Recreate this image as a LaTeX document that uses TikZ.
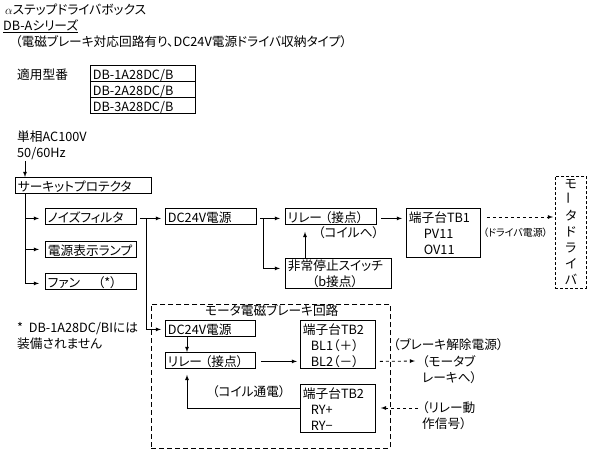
\documentclass[tikz,border=0pt]{standalone}
\usepackage{fontspec}
\setmainfont[CharacterWidth=AlternateProportional]{Noto Sans CJK JP}
\usetikzlibrary{calc,positioning}
\tikzset{
    blk/.style={draw, line width=0.8pt, anchor=north west, inner xsep=2pt, inner ysep=2pt, align=left, text height=12pt, text depth=0pt},
    blkthree/.style={blk, text depth=32pt},
    blktwo/.style={blk, inner ysep=1.5pt, text height=11pt, text depth=16pt},
    lbl/.style={anchor=west, inner sep=0pt, align=left},
    arr/.style={->, >=latex, line width=0.8pt},
    dasharr/.style={->, >=latex, line width=0.8pt, dash pattern=on 3pt off 3pt}
}
\begin{document}
\begin{tikzpicture}[x=1pt, y=-1pt, font=\fontsize{12.7}{16}\selectfont]
    \useasboundingbox (0,0) rectangle (601,465);

    % Headings at the top
    \node[lbl] (title) at (5,10) {$\alpha$ステップドライバボックス};
    \node[lbl] (series) at (3,26) {\underline{DB-Aシリーズ}};
    \node[lbl] (sub) at (15,42) {（電磁ブレーキ対応回路有り、DC24V電源ドライバ収納タイプ）};

    % Model table
    \node[lbl] (models) at (17,75) {適用型番};
    \node[blk, minimum width=105pt, minimum height=16pt, text width=100pt] (m1) at (90,65) {DB-1A28DC/B};
    \node[blk, minimum width=105pt, minimum height=16pt, text width=100pt] (m2) at (90,81) {DB-2A28DC/B};
    \node[blk, minimum width=105pt, minimum height=16pt, text width=100pt] (m3) at (90,97) {DB-3A28DC/B};

    % Input side
    \node[lbl] (ac) at (17,145) {単相AC100V\\50/60Hz};
    \coordinate (acin) at (25,161);
    \node[blk, minimum width=136pt, minimum height=16pt, text width=131pt] (cp) at (15,177) {サーキットプロテクタ};
    \node[blk, minimum width=91pt, minimum height=16pt, text width=86pt] (flt) at (45,208) {ノイズフィルタ};
    \node[blk, minimum width=91pt, minimum height=16pt, text width=86pt] (lamp) at (45,241) {電源表示ランプ};
    \node[blk, minimum width=91pt, minimum height=16pt, text width=86pt] (fan) at (45,273) {ファン\hspace{18pt}（*）};
    \node[lbl] (note) at (17,336) {*\ \ DB-1A28DC/BIには\\装備されません};

    % Main power line
    \node[blk, minimum width=91pt, minimum height=16pt, text width=86pt] (dc) at (165,208) {DC24V電源};
    \node[blk, minimum width=91pt, minimum height=16pt, text width=86pt] (rly) at (285,208) {リレー\hspace{3pt}（接点）};
    \node[blktwo, minimum width=106pt, minimum height=30pt, text width=101pt] (stop) at (285,258) {非常停止スイッチ\\\hspace*{24pt}（b接点）};
    \node[blkthree, minimum width=74pt, minimum height=49pt, text width=69pt] (tb1) at (406,208) {端子台TB1\\\hspace*{15pt}PV11\\\hspace*{15pt}OV11};
    \node[draw, line width=0.8pt, dash pattern=on 3pt off 2pt, anchor=north west, minimum width=31pt, minimum height=112pt, inner sep=0pt, align=center] (drv) at (555,176) {モ\\\rotatebox{90}{ー}\\タ\\ド\\ラ\\イ\\バ};
    \node[lbl] (coil) at (318,233) {（コイルへ）};
    \node[lbl, font=\fontsize{10}{10}\selectfont] (drvpow) at (483,233) {（ドライバ電源）};

    % Brake circuit
    \node[draw, line width=0.8pt, dash pattern=on 5pt off 3pt, anchor=north west, minimum width=239pt, minimum height=144pt] (brk) at (151,304) {};
    \node[lbl] (brkname) at (205,311) {モータ電磁ブレーキ回路};
    \node[blk, minimum width=90pt, minimum height=16pt, text width=85pt] (dcb) at (165,320) {DC24V電源};
    \node[blk, minimum width=90pt, minimum height=16pt, text width=85pt] (rlyb) at (165,352) {リレー\hspace{3pt}（接点）};
    \node[blkthree, minimum width=75pt, minimum height=48pt, text width=70pt] (tb2a) at (300,320) {端子台TB2\\\hspace*{8pt}BL1（＋）\\\hspace*{8pt}BL2（－）};
    \node[blkthree, minimum width=75pt, minimum height=48pt, text width=70pt] (tb2b) at (300,384) {端子台TB2\\\hspace*{8pt}RY+\\\hspace*{8pt}RY−};
    \node[lbl] (coilb) at (212,392) {（コイル通電）};
    \node[lbl] (rel) at (393,345) {（ブレーキ解除電源）};
    \node[lbl] (brkout) at (422,369.5) {（モータブ\\レーキへ）};
    \node[lbl] (sig) at (422,415.5) {（リレー動\\作信号）};
    \coordinate (brkend) at (415,361);
    \coordinate (sigstart) at (418,408);

    % Connectors on the input side
    \draw[arr] (acin) -- (acin |- cp.north);
    \draw[arr, shorten >=6pt] ([xshift=10pt]cp.south west) |- ([yshift=-2pt]flt.west);
    \draw[arr, shorten >=6pt] ([xshift=10pt]cp.south west) |- (lamp.west);
    \draw[arr, shorten >=6pt] ([xshift=10pt]cp.south west) |- ([yshift=-2pt]fan.west);

    % Connectors on the power line
    \draw[arr, shorten >=4pt] ([xshift=3pt,yshift=-2pt]flt.east) -- ([yshift=-2pt]dc.west);
    \draw[arr, shorten >=4pt] ([xshift=10pt,yshift=-2pt]flt.east) |- ([yshift=-1pt]dcb.west);
    \draw[arr, shorten >=5pt] ([xshift=3pt,yshift=-2pt]dc.east) -- ([yshift=-2pt]rly.west);
    \draw[arr, shorten >=5pt] ([xshift=7pt,yshift=-2pt]dc.east) |- ([yshift=5pt]stop.west);
    \draw[arr] ([xshift=20pt]stop.north west) -- ([xshift=20pt,yshift=-7pt]rly.south west);
    \draw[arr, shorten >=4pt] ([xshift=4pt,yshift=-2pt]rly.east) -- ([yshift=-2pt]rly.east -| tb1.west);
    \draw[dasharr, shorten >=2pt] ([xshift=6pt,yshift=-9pt]tb1.north east) -- ([yshift=-9pt]drv.west |- tb1.north);

    % Connectors in the brake circuit
    \draw[arr] ([xshift=22pt]dcb.south west) -- ([xshift=22pt]rlyb.north west);
    \draw[arr, shorten >=3pt] ([xshift=5pt,yshift=-1pt]rlyb.east) -- ([yshift=-1pt]rlyb.east -| tb2a.west);
    \draw[arr] (tb2b.west) -| ([xshift=22pt,yshift=-6pt]rlyb.south west);
    \draw[dasharr] ([xshift=4pt,yshift=-1pt]rlyb.east -| tb2a.east) -- (brkend);
    \draw[dasharr] (sigstart) -- ([xshift=5pt]sigstart -| tb2b.east);
\end{tikzpicture}
\end{document}
